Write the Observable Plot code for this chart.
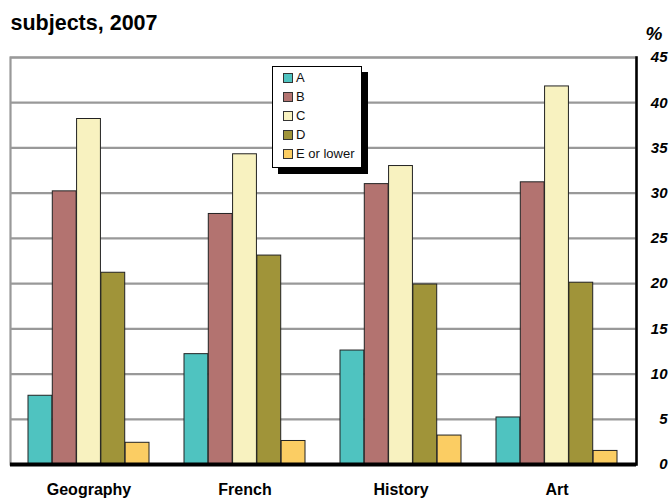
<!DOCTYPE html>
<html>
<head>
<meta charset="utf-8">
<script src="https://cdn.jsdelivr.net/npm/d3@7"></script>
<script src="https://cdn.jsdelivr.net/npm/@observablehq/plot@0.6"></script>
<style>
  html, body { margin: 0; padding: 0; background: #fff; }
  #wrap { position: relative; width: 670px; height: 498px; font-family: "Liberation Sans", Arial, sans-serif; }
  #legend { position: absolute; left: 272px; top: 66px; width: 90px; height: 102px; box-sizing: border-box;
    border: 1.5px solid #000; background: #fff; box-shadow: 6px 6px 0 #000; padding: 1px 0 0 10px; }
  #legend .row { display: flex; align-items: center; height: 19px; font-size: 13px; color: #111; white-space: nowrap; }
  #legend .sw { width: 8px; height: 8px; border: 1px solid #333; margin-right: 3px; }
</style>
</head>
<body>
<div id="wrap"><div id="legend"></div></div>
<script>
const subjects = ["Geography", "French", "History", "Art"];
const grades = ["A", "B", "C", "D", "E or lower"];
const gradeColors = ["#4fc3c0", "#b37370", "#f8f2c0", "#a09439", "#fbcd63"];
const geography = [7.6, 30.2, 38.2, 21.2, 2.4];
const french = [12.2, 27.7, 34.3, 23.1, 2.6];
const history = [12.6, 31.0, 33.0, 19.9, 3.2];
const art = [5.2, 31.2, 41.8, 20.1, 1.5];
const yTicks = [0, 5, 10, 15, 20, 25, 30, 35, 40, 45];
const titleText = "subjects, 2007";
const unitText = "%";

const series = [geography, french, history, art];
const data = subjects.flatMap((s, i) => grades.map((g, j) => ({subject: s, grade: g, value: series[i][j]})));

const W = 670, H = 498, mL = 10, mR = 34, mT = 57, mB = 34;
const pIn = 0.224, pOut = 0.112;
const step = (W - mL - mR) / (subjects.length - pIn + 2 * pOut);
const bw = step * (1 - pIn);
const w = bw / grades.length;

const font = '"Liberation Sans", Arial, sans-serif';
const chart = Plot.plot({
  width: W,
  height: H,
  marginLeft: mL,
  marginRight: mR,
  marginTop: mT,
  marginBottom: mB,
  style: {fontFamily: font, background: "#fff", overflow: "visible"},
  x: {domain: subjects, paddingInner: pIn, paddingOuter: pOut, label: null},
  y: {domain: [0, 45], label: null, axis: null},
  color: {domain: grades, range: gradeColors},
  marks: [
    Plot.ruleY(yTicks, {stroke: "#999", strokeWidth: 2.2}),
    Plot.frame({stroke: "#999", strokeWidth: 2.2}),
    Plot.frame({anchor: "right", stroke: "#000", strokeWidth: 2.5}),
    ...grades.map((g, j) => Plot.barY(data.filter(d => d.grade === g), {
      x: "subject", y: "value", fill: "grade", stroke: "#222", strokeWidth: 1,
      insetLeft: j * w, insetRight: (grades.length - 1 - j) * w
    })),
    Plot.ruleY([0], {stroke: "#000", strokeWidth: 4}),
    Plot.axisX({anchor: "bottom", tickSize: 0, tickPadding: 19, fontSize: 16, fontWeight: "bold", label: null, fill: "#000"}),
    Plot.text(yTicks, {y: d => d, text: d => String(d), frameAnchor: "right", dx: 31, textAnchor: "end", lineAnchor: "middle", fontSize: 15, fontWeight: "bold", fontStyle: "italic", fill: "#000"}),
    Plot.text([titleText], {frameAnchor: "top-left", textAnchor: "start", lineAnchor: "bottom", dx: 0, dy: -28, fontSize: 21.5, fontWeight: "bold", fill: "#000"}),
    Plot.text([unitText], {frameAnchor: "top-right", textAnchor: "end", lineAnchor: "bottom", dx: 26, dy: -18, fontSize: 19, fontWeight: "bold", fontStyle: "italic", fill: "#000"})
  ]
});
const wrap = document.getElementById("wrap");
wrap.insertBefore(chart, wrap.firstChild);

const color = chart.scale("color");
const legend = d3.select("#legend");
grades.forEach(g => {
  const row = legend.append("div").attr("class", "row");
  row.append("div").attr("class", "sw").style("background", color.apply(g));
  row.append("span").text(g);
});
</script>
</body>
</html>
